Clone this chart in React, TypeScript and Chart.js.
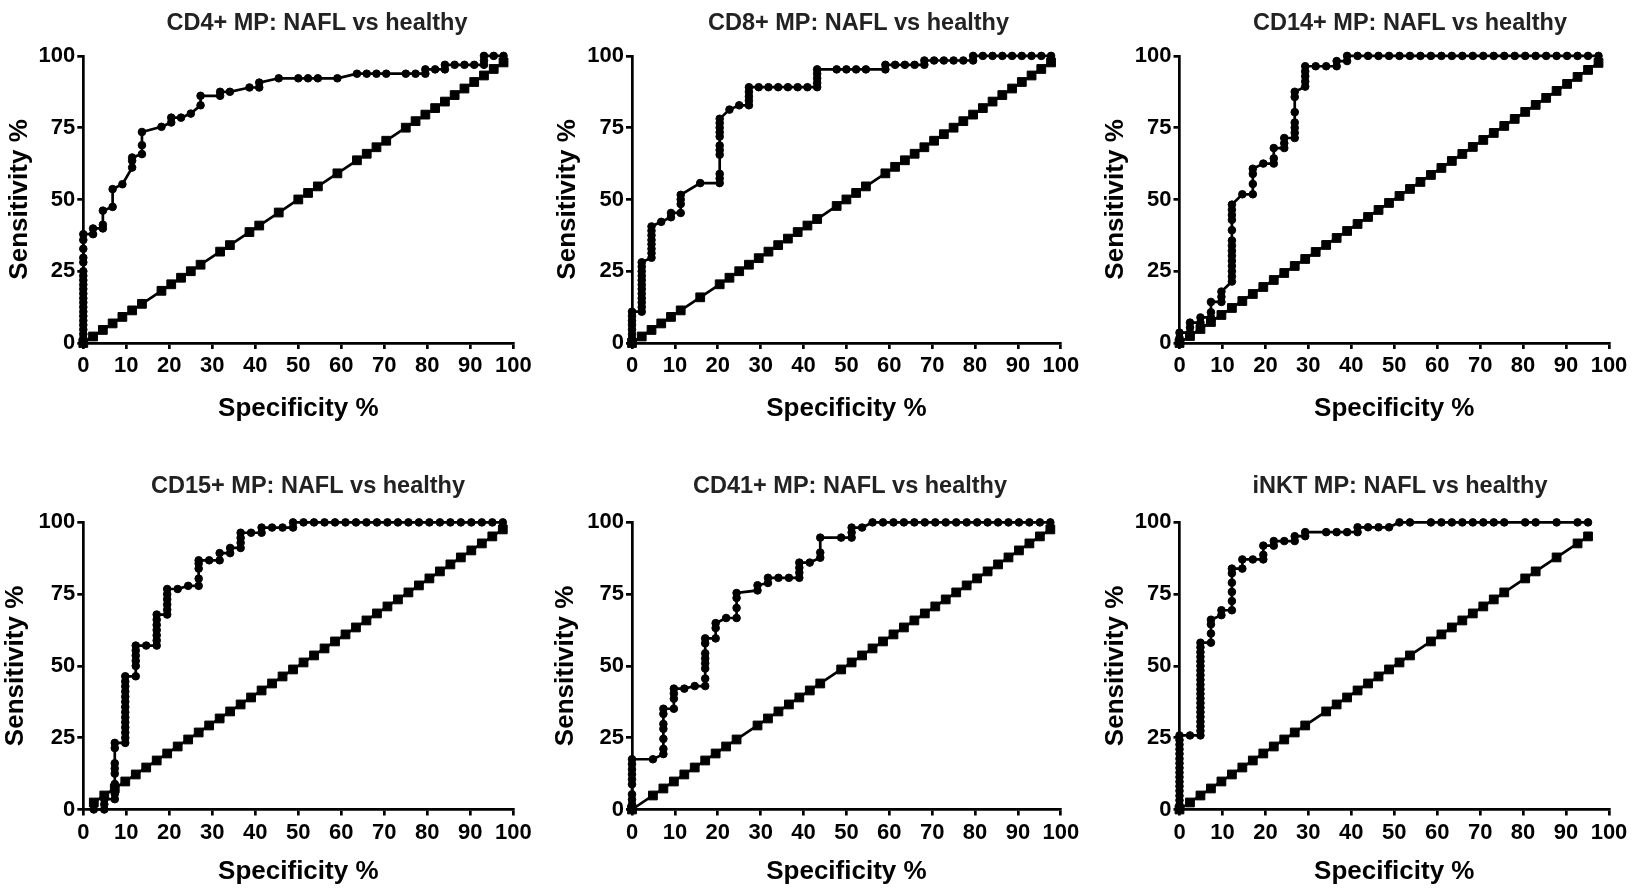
import { useEffect, useRef } from "react";
import { Chart, registerables } from "chart.js";

Chart.register(...registerables);

type Pt = [number, number];

// ---------- tick labels & texts ----------
const xTickValues = [0, 10, 20, 30, 40, 50, 60, 70, 80, 90, 100];
const yTickValues = [0, 25, 50, 75, 100];
const xAxisLabel = "Specificity %";
const yAxisLabel = "Sensitivity %";
const panelTitles = [
  "CD4+ MP: NAFL vs healthy",
  "CD8+ MP: NAFL vs healthy",
  "CD14+ MP: NAFL vs healthy",
  "CD15+ MP: NAFL vs healthy",
  "CD41+ MP: NAFL vs healthy",
  "iNKT MP: NAFL vs healthy",
];

// ---------- ROC curves [specificity %, sensitivity %] ----------
const cd4Roc: Pt[] = [
  [0, 0], [0, 1.6], [0, 3.1], [0, 4.7], [0, 6.3], [0, 7.8], [0, 9.4], [0, 10.9], [0, 12.5], [0, 14.1],
  [0, 15.6], [0, 17.2], [0, 18.8], [0, 20.3], [0, 21.9], [0, 23.4], [0, 25], [0, 28.1], [0, 29.7],
  [0, 32.8], [0, 35.9], [0, 37.9], [2.27, 37.9], [2.27, 39.9], [4.55, 39.9], [4.55, 41.2], [4.55, 46.1],
  [6.82, 47.4], [6.82, 53.6], [9.09, 55.3], [11.36, 61.1], [11.36, 63.5], [11.36, 64.6], [13.64, 65.8],
  [13.64, 68.9], [13.64, 73.5], [18.18, 75.3], [20.45, 76.8], [20.45, 78.5], [22.73, 78.5], [25, 79.9],
  [27.27, 82.8], [27.27, 86.1], [31.82, 86.1], [31.82, 87.5], [34.09, 87.5], [38.64, 89], [40.91, 89],
  [40.91, 90.7], [45.45, 92.2], [50, 92.2], [52.27, 92.2], [54.55, 92.2], [59.09, 92.2], [63.64, 93.8],
  [65.91, 93.8], [68.18, 93.8], [70.45, 93.8], [75, 93.8], [77.27, 93.8], [79.55, 93.8], [79.55, 95.3],
  [81.82, 95.3], [84.09, 95.3], [84.09, 96.9], [86.36, 96.9], [88.64, 96.9], [90.91, 96.9], [93.18, 96.9],
  [93.18, 98.4], [93.18, 100], [95.45, 100], [97.73, 100],
];

const cd8Roc: Pt[] = [
  [0, 0], [0, 1.6], [0, 3.1], [0, 4.7], [0, 6.3], [0, 7.8], [0, 9.4], [0, 10.9],
  [2.27, 10.9], [2.27, 12.5], [2.27, 14.1], [2.27, 15.6], [2.27, 17.2], [2.27, 18.8], [2.27, 20.3],
  [2.27, 21.9], [2.27, 23.4], [2.27, 25], [2.27, 26.6], [2.27, 28.1],
  [4.55, 29.7], [4.55, 31.3], [4.55, 32.8], [4.55, 34.4], [4.55, 35.9], [4.55, 37.5], [4.55, 39.1], [4.55, 40.6],
  [6.82, 42.2], [9.09, 43.8], [9.09, 45.3], [11.36, 45.3], [11.36, 48.4], [11.36, 50], [11.36, 51.6],
  [15.91, 55.7], [20.45, 55.7], [20.45, 57.3], [20.45, 58.9], [20.45, 65.6], [20.45, 67.2], [20.45, 68.8],
  [20.45, 71.9], [20.45, 73.4], [20.45, 75], [20.45, 76.6], [20.45, 78.1], [22.73, 81.3], [25, 82.8],
  [27.27, 82.8], [27.27, 84.4], [27.27, 85.9], [27.27, 87.5], [27.27, 89.1], [29.55, 89.1], [31.82, 89.1],
  [34.09, 89.1], [36.36, 89.1], [38.64, 89.1], [40.91, 89.1], [43.18, 89.1], [43.18, 90.6], [43.18, 92.2],
  [43.18, 93.8], [43.18, 95.3], [47.73, 95.3], [50, 95.3], [52.27, 95.3], [54.55, 95.3], [59.09, 95.3],
  [59.09, 96.9], [61.36, 96.9], [63.64, 96.9], [65.91, 96.9], [68.18, 96.9], [68.18, 98.4], [70.45, 98.4],
  [72.73, 98.4], [75, 98.4], [77.27, 98.4], [79.55, 98.4], [79.55, 100], [81.82, 100], [84.09, 100],
  [86.36, 100], [88.64, 100], [90.91, 100], [93.18, 100], [95.45, 100], [97.73, 100],
];

const cd14Roc: Pt[] = [
  [0, 0], [0, 1.8], [0, 3.6], [2.44, 3.6], [2.44, 5.4], [2.44, 7.1], [4.88, 7.1], [4.88, 8.9],
  [7.32, 8.9], [7.32, 10.7], [7.32, 14.3], [9.76, 14.3], [9.76, 16.1], [9.76, 17.9],
  [12.2, 21.4], [12.2, 23.2], [12.2, 25], [12.2, 26.8], [12.2, 28.6], [12.2, 30.4], [12.2, 32.1],
  [12.2, 33.9], [12.2, 35.7], [12.2, 39.3], [12.2, 42.9], [12.2, 44.6], [12.2, 46.4], [12.2, 48.2],
  [14.63, 51.8], [17.07, 51.8], [17.07, 55.4], [17.07, 58.9], [17.07, 60.7], [19.51, 62.5],
  [21.95, 62.5], [21.95, 64.3], [21.95, 67.9], [24.39, 67.9], [24.39, 69.6], [24.39, 71.4],
  [26.83, 71.4], [26.83, 73.2], [26.83, 75], [26.83, 76.8], [26.83, 80.4], [26.83, 85.7], [26.83, 87.5],
  [29.27, 89.3], [29.27, 91.1], [29.27, 92.9], [29.27, 94.6], [29.27, 96.4], [31.71, 96.4], [34.15, 96.4],
  [36.59, 96.4], [36.59, 98.2], [39.02, 98.2], [39.02, 100], [41.46, 100], [43.9, 100], [46.34, 100],
  [48.78, 100], [51.22, 100], [53.66, 100], [56.1, 100], [58.54, 100], [60.98, 100], [63.41, 100],
  [65.85, 100], [68.29, 100], [70.73, 100], [73.17, 100], [75.61, 100], [78.05, 100], [80.49, 100],
  [82.93, 100], [85.37, 100], [87.8, 100], [90.24, 100], [92.68, 100], [95.12, 100], [97.56, 100],
];

const cd15Roc: Pt[] = [
  [2.44, 0], [4.88, 0], [4.88, 1.8], [4.88, 3.6], [7.32, 3.6], [7.32, 5.4], [7.32, 7.1], [7.32, 8.9],
  [7.32, 12.5], [7.32, 14.3], [7.32, 16.1], [7.32, 21.4], [7.32, 23.2], [9.76, 23.2], [9.76, 25],
  [9.76, 26.8], [9.76, 28.6], [9.76, 30.4], [9.76, 32.1], [9.76, 33.9], [9.76, 35.7], [9.76, 37.5],
  [9.76, 39.3], [9.76, 41.1], [9.76, 42.9], [9.76, 44.6], [9.76, 46.4], [12.2, 46.4], [12.2, 50],
  [12.2, 51.8], [12.2, 53.6], [12.2, 55.4], [12.2, 57.1], [14.63, 57.1], [17.07, 57.1], [17.07, 58.9],
  [17.07, 60.7], [17.07, 62.5], [17.07, 64.3], [17.07, 66.1], [17.07, 67.9], [19.51, 67.9], [19.51, 69.6],
  [19.51, 71.4], [19.51, 73.2], [19.51, 75], [19.51, 76.8], [21.95, 76.8], [24.39, 77.9], [26.83, 77.9],
  [26.83, 80.4], [26.83, 83.9], [26.83, 85.7], [26.83, 86.8], [29.27, 86.8], [31.71, 86.8], [31.71, 89.3],
  [34.15, 89.3], [34.15, 91.1], [36.59, 91.1], [36.59, 92.9], [36.59, 94.6], [36.59, 96.4], [39.02, 96.4],
  [41.46, 96.4], [41.46, 98.2], [43.9, 98.2], [46.34, 98.2], [48.78, 98.2], [48.78, 100], [51.22, 100],
  [53.66, 100], [56.1, 100], [58.54, 100], [60.98, 100], [63.41, 100], [65.85, 100], [68.29, 100],
  [70.73, 100], [73.17, 100], [75.61, 100], [78.05, 100], [80.49, 100], [82.93, 100], [85.37, 100],
  [87.8, 100], [90.24, 100], [92.68, 100], [95.12, 100], [97.56, 100],
];

const cd41Roc: Pt[] = [
  [0, 0], [0, 1.8], [0, 3.5], [0, 5.3], [0, 8.8], [0, 10.5], [0, 12.3], [0, 14], [0, 15.8], [0, 17.5],
  [4.88, 17.5], [7.32, 19.3], [7.32, 21.1], [7.32, 24.6], [7.32, 28.1], [7.32, 29.8], [7.32, 33.3],
  [7.32, 35.1], [9.76, 35.1], [9.76, 38.6], [9.76, 40.4], [9.76, 42.1], [12.2, 42.1], [14.63, 43],
  [17.07, 43], [17.07, 45.6], [17.07, 49.1], [17.07, 50.9], [17.07, 52.6], [17.07, 54.4], [17.07, 57.9],
  [17.07, 59.6], [19.51, 59.6], [19.51, 63.2], [19.51, 64.9], [21.95, 66.7], [24.39, 66.7], [24.39, 70.2],
  [24.39, 73.7], [24.39, 75.4], [29.27, 76.3], [29.27, 78.1], [31.71, 78.9], [31.71, 80.7], [34.15, 80.7],
  [36.59, 80.7], [39.02, 80.7], [39.02, 82.5], [39.02, 84.2], [39.02, 86], [41.46, 86], [43.9, 87.7],
  [43.9, 89.5], [43.9, 94.7], [48.78, 94.7], [51.22, 94.7], [51.22, 96.5], [51.22, 98.2], [53.66, 98.2],
  [56.1, 100], [58.54, 100], [60.98, 100], [63.41, 100], [65.85, 100], [68.29, 100], [70.73, 100],
  [73.17, 100], [75.61, 100], [78.05, 100], [80.49, 100], [82.93, 100], [85.37, 100], [87.8, 100],
  [90.24, 100], [92.68, 100], [95.12, 100], [97.56, 100],
];

const inktRoc: Pt[] = [
  [0, 0], [0, 1.6], [0, 3.2], [0, 4.8], [0, 6.5], [0, 8.1], [0, 9.7], [0, 11.3], [0, 12.9], [0, 14.5],
  [0, 16.1], [0, 17.7], [0, 19.4], [0, 21], [0, 22.6], [0, 24.2], [0, 25.8], [2.44, 25.8], [4.88, 25.8],
  [4.88, 27.4], [4.88, 29], [4.88, 30.6], [4.88, 32.3], [4.88, 33.9], [4.88, 35.5], [4.88, 37.1],
  [4.88, 38.7], [4.88, 40.3], [4.88, 41.9], [4.88, 43.5], [4.88, 45.2], [4.88, 46.8], [4.88, 48.4],
  [4.88, 50], [4.88, 51.6], [4.88, 53.2], [4.88, 54.8], [4.88, 56.5], [4.88, 58.1], [7.32, 58.1],
  [7.32, 61.3], [7.32, 64.5], [7.32, 66.1], [9.76, 67.7], [9.76, 69.4], [12.2, 69.4], [12.2, 72.6],
  [12.2, 75.8], [12.2, 79], [12.2, 82.3], [12.2, 83.9], [14.63, 83.9], [14.63, 87.1], [17.07, 87.1],
  [19.51, 87.1], [19.51, 88.7], [19.51, 91.9], [21.95, 91.9], [21.95, 93.5], [24.39, 93.5], [26.83, 93.5],
  [26.83, 95.2], [29.27, 95.2], [29.27, 96.6], [34.15, 96.6], [36.59, 96.6], [39.02, 96.6], [41.46, 96.6],
  [41.46, 98.3], [43.9, 98.3], [46.34, 98.3], [48.78, 98.3], [51.22, 100], [53.66, 100], [58.54, 100],
  [60.98, 100], [63.41, 100], [65.85, 100], [68.29, 100], [70.73, 100], [73.17, 100], [75.61, 100],
  [80.49, 100], [82.93, 100], [87.8, 100], [92.68, 100], [95.12, 100],
];

// ---------- line of identity (sensitivity % = specificity %) at each cutoff ----------
const cd4Identity = [0, 2.27, 4.55, 6.82, 9.09, 11.36, 13.64, 18.18, 20.45, 22.73, 25, 27.27, 31.82, 34.09,
  38.64, 40.91, 45.45, 50, 52.27, 54.55, 59.09, 63.64, 65.91, 68.18, 70.45, 75, 77.27, 79.55, 81.82,
  84.09, 86.36, 88.64, 90.91, 93.18, 95.45, 97.73];
const cd8Identity = [0, 2.27, 4.55, 6.82, 9.09, 11.36, 15.91, 20.45, 22.73, 25, 27.27, 29.55, 31.82, 34.09,
  36.36, 38.64, 40.91, 43.18, 47.73, 50, 52.27, 54.55, 59.09, 61.36, 63.64, 65.91, 68.18, 70.45, 72.73,
  75, 77.27, 79.55, 81.82, 84.09, 86.36, 88.64, 90.91, 93.18, 95.45, 97.73];
const cd14Identity = [0, 2.44, 4.88, 7.32, 9.76, 12.2, 14.63, 17.07, 19.51, 21.95, 24.39, 26.83, 29.27,
  31.71, 34.15, 36.59, 39.02, 41.46, 43.9, 46.34, 48.78, 51.22, 53.66, 56.1, 58.54, 60.98, 63.41, 65.85,
  68.29, 70.73, 73.17, 75.61, 78.05, 80.49, 82.93, 85.37, 87.8, 90.24, 92.68, 95.12, 97.56];
const cd15Identity = [2.44, 4.88, 7.32, 9.76, 12.2, 14.63, 17.07, 19.51, 21.95, 24.39, 26.83, 29.27,
  31.71, 34.15, 36.59, 39.02, 41.46, 43.9, 46.34, 48.78, 51.22, 53.66, 56.1, 58.54, 60.98, 63.41, 65.85,
  68.29, 70.73, 73.17, 75.61, 78.05, 80.49, 82.93, 85.37, 87.8, 90.24, 92.68, 95.12, 97.56];
const cd41Identity = [0, 4.88, 7.32, 9.76, 12.2, 14.63, 17.07, 19.51, 21.95, 24.39, 29.27, 31.71, 34.15,
  36.59, 39.02, 41.46, 43.9, 48.78, 51.22, 53.66, 56.1, 58.54, 60.98, 63.41, 65.85, 68.29, 70.73, 73.17,
  75.61, 78.05, 80.49, 82.93, 85.37, 87.8, 90.24, 92.68, 95.12, 97.56];
const inktIdentity = [0, 2.44, 4.88, 7.32, 9.76, 12.2, 14.63, 17.07, 19.51, 21.95, 24.39, 26.83, 29.27,
  34.15, 36.59, 39.02, 41.46, 43.9, 46.34, 48.78, 51.22, 53.66, 58.54, 60.98, 63.41, 65.85, 68.29, 70.73,
  73.17, 75.61, 80.49, 82.93, 87.8, 92.68, 95.12];

const rocSeries = [cd4Roc, cd8Roc, cd14Roc, cd15Roc, cd41Roc, inktRoc];
const identitySeries = [cd4Identity, cd8Identity, cd14Identity, cd15Identity, cd41Identity, inktIdentity];

// ---------- layout (page pixels) ----------
interface Geo {
  left: number; top: number; width: number; height: number;
  yW: number; rightW: number; xH: number; padBottom: number;
  titleTop: number; titleBottom: number; yTitlePad: number;
}
const row1 = { top: 0, height: 430, xH: 81.6, padBottom: 5.4, titleTop: 9.0, titleBottom: 18.7 };
const row2 = { top: 466, height: 422, xH: 78.3, padBottom: 0.2, titleTop: 6.5, titleBottom: 21.7 };
const geometry: Geo[] = [
  { ...row1, left: 0, width: 634, yW: 83.3, rightW: 120.7, yTitlePad: 4.4 },
  { ...row1, left: 548, width: 621, yW: 84, rightW: 108.2, yTitlePad: 4.4 },
  { ...row1, left: 1096, width: 628, yW: 83.5, rightW: 115, yTitlePad: 4.4 },
  { ...row2, left: 0, width: 616, yW: 83.3, rightW: 102.7, yTitlePad: 0 },
  { ...row2, left: 548, width: 604, yW: 84, rightW: 91.2, yTitlePad: 2.4 },
  { ...row2, left: 1096, width: 608, yW: 83.5, rightW: 95, yTitlePad: 4.4 },
];

const FONT = "'Liberation Sans', Arial, Helvetica, sans-serif";
const AXIS_W = 2.7;

function RocPanel({ title, roc, identity, geo }: { title: string; roc: Pt[]; identity: number[]; geo: Geo }) {
  const ref = useRef<HTMLCanvasElement>(null);
  useEffect(() => {
    if (!ref.current) return;
    const tickFont = { family: FONT, size: 22, weight: "bold" as const, lineHeight: 1.2 };
    const axisTitleFont = { family: FONT, size: 26, weight: "bold" as const, lineHeight: 1.2 };
    const chart = new Chart(ref.current, {
      type: "scatter",
      data: {
        datasets: [
          {
            data: roc.map(([x, y]) => ({ x, y })),
            showLine: true,
            borderColor: "#000",
            backgroundColor: "#000",
            borderWidth: 2.7,
            pointStyle: "circle",
            pointRadius: 3.8,
            pointBorderWidth: 1,
            pointBackgroundColor: "#000",
            pointBorderColor: "#000",
            clip: false,
            xAxisID: "x",
            yAxisID: "y",
          } as any,
          {
            data: identity.map((v) => ({ x: v, y: v })),
            showLine: true,
            borderColor: "#000",
            backgroundColor: "#000",
            borderWidth: 2.7,
            pointStyle: "rect",
            pointRadius: 6.2,
            pointBorderWidth: 1,
            pointBackgroundColor: "#000",
            pointBorderColor: "#000",
            clip: false,
            xAxisID: "x",
            yAxisID: "y",
          } as any,
        ],
      },
      options: {
        responsive: false,
        animation: false,
        devicePixelRatio: 1,
        events: [],
        layout: { padding: { left: 0, right: 0, top: 0, bottom: geo.padBottom } },
        plugins: {
          legend: { display: false },
          tooltip: { enabled: false },
          title: {
            display: true,
            text: title,
            color: "#222",
            font: { family: FONT, size: 23.5, weight: "bold", lineHeight: 1.2 },
            padding: { top: geo.titleTop, bottom: geo.titleBottom },
          },
        },
        scales: {
          x: {
            type: "linear",
            position: "bottom",
            min: 0,
            max: 100,
            afterBuildTicks: (s: any) => {
              s.ticks = xTickValues.map((v) => ({ value: v }));
            },
            afterFit: (s: any) => {
              s.height = geo.xH;
              s.paddingLeft = 0;
              s.paddingRight = 0;
            },
            ticks: { color: "#000", font: tickFont, padding: 4, autoSkip: false, maxRotation: 0, minRotation: 0 },
            grid: { display: true, drawOnChartArea: false, drawTicks: true, tickLength: 6, color: "#000", lineWidth: AXIS_W },
            border: { display: true, color: "#000", width: AXIS_W },
            title: { display: true, text: xAxisLabel, color: "#000", font: axisTitleFont, padding: { top: 0, bottom: 0 } },
          },
          y: {
            type: "linear",
            position: "left",
            min: 0,
            max: 100,
            afterBuildTicks: (s: any) => {
              s.ticks = yTickValues.map((v) => ({ value: v }));
            },
            afterFit: (s: any) => {
              s.width = geo.yW;
              s.paddingTop = 0;
              s.paddingBottom = 0;
            },
            ticks: { color: "#000", font: tickFont, padding: 2, autoSkip: false },
            grid: { display: true, drawOnChartArea: false, drawTicks: true, tickLength: 6, color: "#000", lineWidth: AXIS_W },
            border: { display: true, color: "#000", width: AXIS_W },
            title: { display: true, text: yAxisLabel, color: "#000", font: axisTitleFont, padding: { top: geo.yTitlePad, bottom: 0 } },
          },
          spacer: {
            type: "linear",
            position: "right",
            display: true,
            afterFit: (s: any) => {
              s.width = geo.rightW;
              s.paddingTop = 0;
              s.paddingBottom = 0;
            },
            ticks: { display: false },
            grid: { display: false, drawTicks: false },
            border: { display: false },
            title: { display: false },
          },
        },
      } as any,
    });
    return () => chart.destroy();
  }, [title, roc, identity, geo]);
  return (
    <canvas
      ref={ref}
      width={geo.width}
      height={geo.height}
      style={{ position: "absolute", left: geo.left, top: geo.top, width: geo.width, height: geo.height }}
    />
  );
}

export default function App() {
  return (
    <div
      style={{
        position: "absolute",
        left: 0,
        top: 0,
        width: 1632,
        height: 888,
        overflow: "hidden",
        background: "#fff",
      }}
    >
      {panelTitles.map((t, i) => (
        <RocPanel key={t} title={t} roc={rocSeries[i]} identity={identitySeries[i]} geo={geometry[i]} />
      ))}
    </div>
  );
}
